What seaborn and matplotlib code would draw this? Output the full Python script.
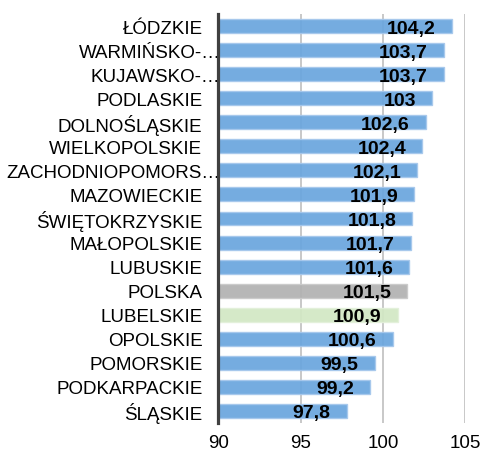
import matplotlib
matplotlib.use("Agg")
import matplotlib.pyplot as plt
import matplotlib.transforms as mtransforms
import seaborn as sns
import pandas as pd

regions = ["ŁÓDZKIE", "WARMIŃSKO-…", "KUJAWSKO-…", "PODLASKIE", "DOLNOŚLĄSKIE",
           "WIELKOPOLSKIE", "ZACHODNIOPOMORS…", "MAZOWIECKIE", "ŚWIĘTOKRZYSKIE",
           "MAŁOPOLSKIE", "LUBUSKIE", "POLSKA", "LUBELSKIE", "OPOLSKIE",
           "POMORSKIE", "PODKARPACKIE", "ŚLĄSKIE"]
values = [104.2, 103.7, 103.7, 103.0, 102.6, 102.4, 102.1, 101.9, 101.8,
          101.7, 101.6, 101.5, 100.9, 100.6, 99.5, 99.2, 97.8]
value_labels = ["104,2", "103,7", "103,7", "103", "102,6", "102,4", "102,1",
                "101,9", "101,8", "101,7", "101,6", "101,5", "100,9", "100,6",
                "99,5", "99,2", "97,8"]
x_ticks = [90, 95, 100, 105]

BLUE, GRAY, GREEN = "#6aa6de", "#b2b2b2", "#d2e8c4"
EDGE = {BLUE: "#a6c8ec", GRAY: "#cacaca", GREEN: "#e3f0da"}
colors = [GRAY if r == "POLSKA" else GREEN if r == "LUBELSKIE" else BLUE
          for r in regions]

df = pd.DataFrame({"region": regions, "value": values})

sns.set_theme(style="white")
plt.rcParams["font.family"] = ["Liberation Sans", "DejaVu Sans"]

fig = plt.figure(figsize=(4.81, 4.52), dpi=100)
ax = fig.add_axes([218.5 / 481, 1 - 424 / 452, (465 - 218.5) / 481, (424 - 15) / 452])

for t in x_ticks[1:]:
    ax.axvline(t, color="#c4c4c4", lw=1.3, zorder=0)

sns.barplot(data=df, x="value", y="region", hue="region", palette=colors,
            saturation=1, orient="h", width=0.58, legend=False, ax=ax, zorder=2)
for patch, c in zip(ax.patches, colors):
    patch.set_alpha(0.93)
    patch.set_edgecolor(EDGE[c])
    patch.set_linewidth(1.0)

ax.set_xlim(90, 105)
ax.set_ylim(len(regions) - 0.5, -0.5)
ax.set_xticks(x_ticks)
ax.set_xlabel("")
ax.set_ylabel("")
ax.tick_params(axis="both", length=0, labelsize=13.5, colors="black")
ax.tick_params(axis="y", pad=11.5)
ax.tick_params(axis="x", pad=8)

for side in ["top", "right", "bottom"]:
    ax.spines[side].set_visible(False)
ax.spines["left"].set_color("#404040")
ax.spines["left"].set_linewidth(2.3)
ax.spines["left"].set_zorder(5)

# truncated names: ellipsis hangs past the common right edge
for lbl in ax.get_yticklabels():
    if lbl.get_text().endswith("…"):
        lbl.set_transform(lbl.get_transform() +
                          mtransforms.ScaledTranslation(18 / 100, 0, fig.dpi_scale_trans))

for i, (v, s) in enumerate(zip(values, value_labels)):
    ax.annotate(s, xy=(v, i), xytext=(-16, -2), textcoords="offset pixels",
                ha="right", va="center", fontsize=14, fontweight="bold",
                color="black", zorder=6)

fig.savefig("out.png", dpi=100)
